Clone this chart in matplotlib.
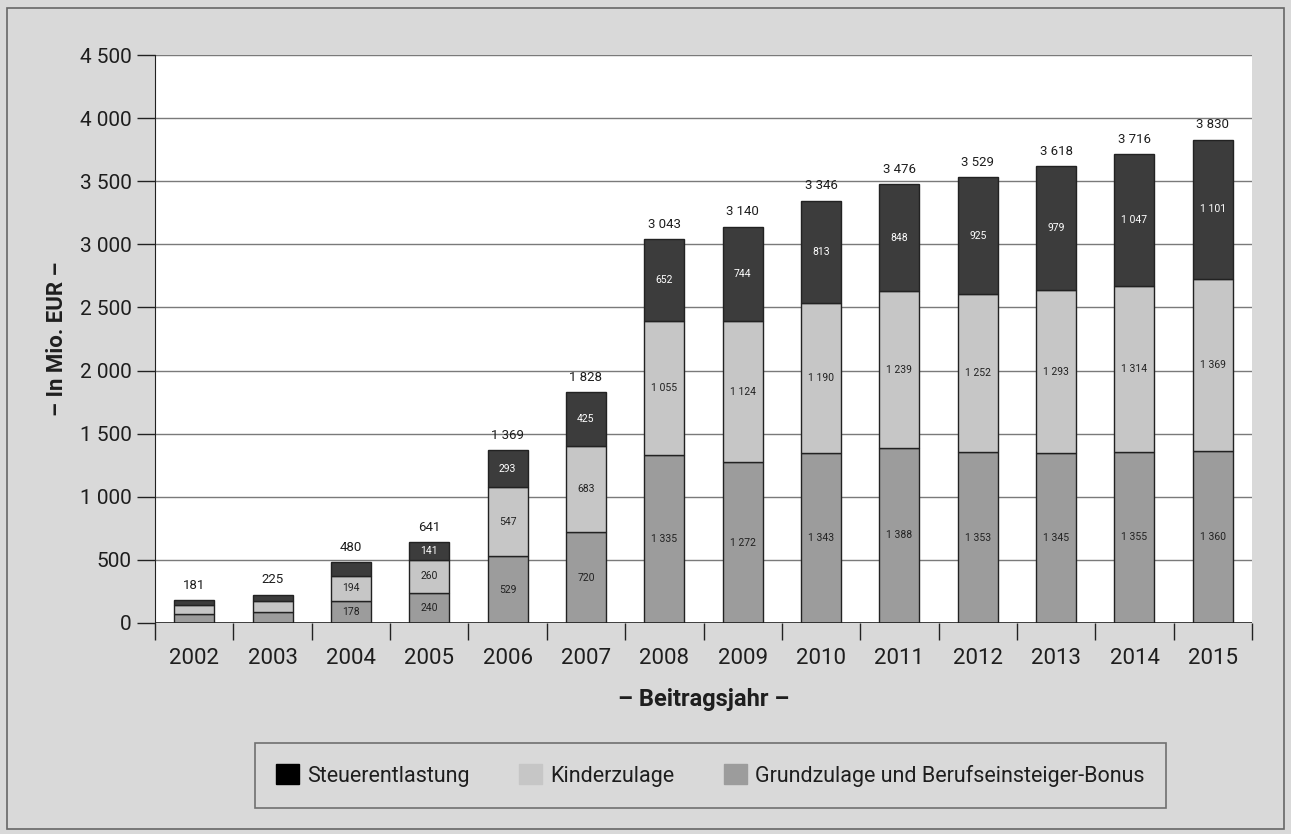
import matplotlib

matplotlib.use("Agg")
import matplotlib.pyplot as plt
import numpy as np
from matplotlib.patches import Rectangle

years = ["2002", "2003", "2004", "2005", "2006", "2007", "2008",
         "2009", "2010", "2011", "2012", "2013", "2014", "2015"]
grundzulage = [75, 90, 178, 240, 529, 720, 1335, 1272, 1343, 1388, 1353, 1345, 1355, 1360]
kinderzulage = [68, 85, 194, 260, 547, 683, 1055, 1124, 1190, 1239, 1252, 1293, 1314, 1369]
steuer = [38, 50, 108, 141, 293, 425, 652, 744, 813, 848, 925, 979, 1047, 1101]
totals = [181, 225, 480, 641, 1369, 1828, 3043, 3140, 3346, 3476, 3529, 3618, 3716, 3830]
# small segments carry no inner labels in the original
show_lower = [False, False] + [True] * 12
show_steuer = [False, False, False] + [True] * 11

BG = "#d9d9d9"
C_DARK = "#3c3c3c"
C_LIGHT = "#c6c6c6"
C_MID = "#9c9c9c"
TXT = "#1e1e1e"

plt.rcParams.update({"font.family": ["Roboto", "DejaVu Sans"]})


def fmt(v):
    return f"{v:,}".replace(",", " ")


fig = plt.figure(figsize=(12.91, 8.34), dpi=100, facecolor=BG)
fig.patches.append(Rectangle((0.0054, 0.006), 0.9892, 0.9845, transform=fig.transFigure,
                             fill=False, edgecolor="#666666", linewidth=1.2))
ax = fig.add_axes([0.1201, 0.253, 0.8497, 0.681])
ax.set_facecolor("white")

x = np.arange(len(years))
w = 0.51
kw = dict(width=w, edgecolor="#222222", linewidth=1.0, zorder=3)
ax.bar(x, grundzulage, color=C_MID, **kw)
ax.bar(x, kinderzulage, bottom=grundzulage, color=C_LIGHT, **kw)
bottom2 = np.array(grundzulage) + np.array(kinderzulage)
ax.bar(x, steuer, bottom=bottom2, color=C_DARK, **kw)

for i in range(len(years)):
    if show_lower[i]:
        ax.text(x[i], grundzulage[i] / 2, fmt(grundzulage[i]), ha="center", va="center",
                fontsize=7.5, color="#222222", zorder=4)
        ax.text(x[i], grundzulage[i] + kinderzulage[i] / 2, fmt(kinderzulage[i]),
                ha="center", va="center", fontsize=7.5, color="#222222", zorder=4)
    if show_steuer[i]:
        ax.text(x[i], bottom2[i] + steuer[i] / 2, fmt(steuer[i]), ha="center",
                va="center", fontsize=7.5, color="white", zorder=4)
    ax.annotate(fmt(totals[i]), (x[i], totals[i]), xytext=(0, 6),
                textcoords="offset points", ha="center", va="bottom",
                fontsize=9.5, color=TXT)

ax.set_xlim(-0.5, len(years) - 0.5)
ax.set_ylim(0, 4500)
yt = np.arange(0, 4501, 500)
ax.set_yticks(yt)
ax.set_yticklabels([fmt(v) for v in yt], fontsize=15, color=TXT)
ax.yaxis.grid(True, color="#7a7a7a", linewidth=1.0, zorder=1)
ax.set_axisbelow(True)
ax.tick_params(axis="y", length=13, width=1.0, color="#222222", pad=4)

ax.set_xticks(x)
ax.set_xticklabels(years, fontsize=16, color=TXT)
ax.set_xticks(np.arange(-0.5, len(years)), minor=True)
ax.tick_params(axis="x", which="major", length=0, pad=18)
ax.tick_params(axis="x", which="minor", length=12, width=1.0, color="#222222")

for s in ["top", "right", "bottom"]:
    ax.spines[s].set_visible(False)
ax.spines["left"].set_color("#222222")
ax.axhline(0, color="#222222", linewidth=1.2, zorder=5)

ax.set_xlabel("– Beitragsjahr –", fontsize=17, fontweight="bold", color=TXT)
ax.xaxis.set_label_coords(0.5, -0.115)
ax.set_ylabel("– In Mio. EUR –", fontsize=16, fontweight="bold", color=TXT)
ax.yaxis.set_label_coords(-0.079, 0.5)

handles = [Rectangle((0, 0), 1, 1, color="black"),
           Rectangle((0, 0), 1, 1, color=C_LIGHT),
           Rectangle((0, 0), 1, 1, color=C_MID)]
leg = fig.legend(handles, ["Steuerentlastung", "Kinderzulage",
                           "Grundzulage und Berufseinsteiger-Bonus"],
                 loc="center", bbox_to_anchor=(0.5504, 0.0701), ncol=3,
                 fontsize=15.5, frameon=True, fancybox=False, facecolor=BG,
                 edgecolor="#555555", borderpad=1.0, handlelength=1.05,
                 handleheight=1.05, handletextpad=0.4, columnspacing=2.3,
                 borderaxespad=0)
for t in leg.get_texts():
    t.set_color(TXT)
leg.get_frame().set_linewidth(1.2)

fig.savefig("out.png", dpi=100, facecolor=BG)
